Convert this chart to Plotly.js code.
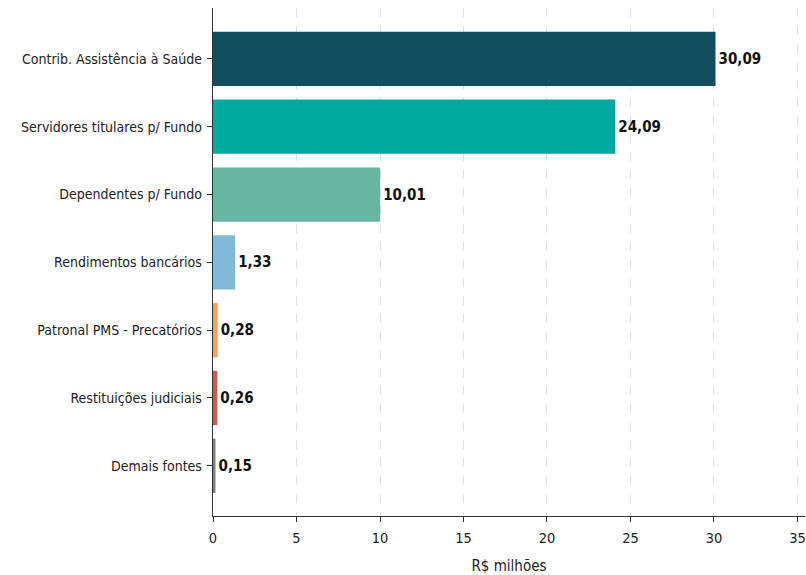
<!DOCTYPE html>
<html>
<head>
<meta charset="utf-8">
<script src="https://cdn.plot.ly/plotly-3.0.1.min.js"></script>
<style>html,body{margin:0;padding:0;background:#fff;}#chart{width:806px;height:575px;}</style>
</head>
<body>
<div id="chart"></div>
<script>
const categories = ["Contrib. Assistência à Saúde", "Servidores titulares p/ Fundo", "Dependentes p/ Fundo", "Rendimentos bancários", "Patronal PMS - Precatórios", "Restituições judiciais", "Demais fontes"];
const values = [30.09, 24.09, 10.01, 1.33, 0.28, 0.26, 0.15];
const colors = ["#134E5E", "#00A99D", "#66B7A2", "#7FB9DA", "#F4A25B", "#D9534F", "#7F7F7F"];
const xTicks = [0, 5, 10, 15, 20, 25, 30, 35];

const FONT = "DejaVu Sans Condensed, Liberation Sans Narrow, sans-serif";
const labels = values.map(v => v.toFixed(2).replace('.', ','));

const trace = {
  type: 'bar',
  orientation: 'h',
  y: categories,
  x: values,
  width: 0.8,
  marker: {color: colors},
  text: labels,
  textposition: 'outside',
  cliponaxis: false,
  texttemplate: '<b>%{text}</b>',
  textfont: {family: FONT, size: 15, color: '#111'},
  hoverinfo: 'none'
};

const layout = {
  width: 806, height: 575,
  margin: {l: 213, r: 1, t: 8, b: 59},
  paper_bgcolor: '#fff', plot_bgcolor: '#fff',
  showlegend: false,
  font: {family: FONT, size: 14, color: '#222'},
  xaxis: {
    range: [0, 35.45],
    tickvals: xTicks,
    ticktext: xTicks.map(String),
    showgrid: true, gridcolor: '#e0e0e0', griddash: 'dash', gridwidth: 1,
    zeroline: false,
    showline: true, linecolor: '#333', linewidth: 1.3,
    ticks: 'outside', ticklen: 5, tickcolor: '#333',
    ticklabelstandoff: 3,
    tickfont: {family: FONT, size: 14.5, color: '#222'},
    title: {text: 'R$ milhões', font: {family: FONT, size: 15, color: '#222'}, standoff: 18}
  },
  yaxis: {
    autorange: false,
    range: [6.74, -0.75],
    showgrid: false, zeroline: false,
    showline: true, linecolor: '#333', linewidth: 1.3,
    ticks: 'outside', ticklen: 5, tickcolor: '#333',
    tickfont: {family: FONT, size: 14, color: '#222'},
    ticklabelstandoff: 2
  }
};

Plotly.newPlot('chart', [trace], layout, {staticPlot: true, displayModeBar: false});
</script>
</body>
</html>
